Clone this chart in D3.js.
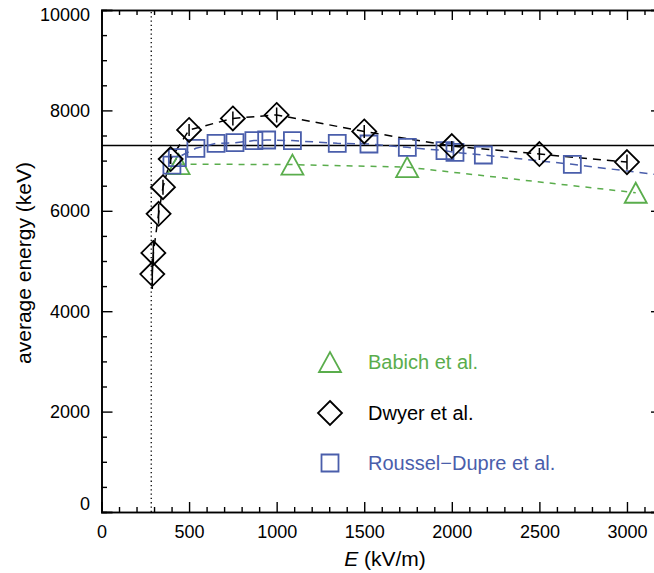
<!DOCTYPE html>
<html>
<head>
<meta charset="utf-8">
<script src="https://cdn.jsdelivr.net/npm/d3@7"></script>
<style>
  html, body { margin: 0; padding: 0; background: #fff; }
  svg { display: block; }
  text { font-family: "Liberation Sans", Arial, Helvetica, sans-serif; }
</style>
</head>
<body>
<svg id="chart" width="654" height="573"></svg>
<script>
// ---------- data ----------
const babichE   = [440, 1090, 1745, 3050];
const babichVal = [6930, 6920, 6870, 6360];

const dwyerE   = [290, 296, 326, 351, 395, 500, 750, 1000, 1500, 2000, 2500, 3000];
const dwyerVal = [4740, 5160, 5940, 6470, 7030, 7610, 7840, 7910, 7580, 7290, 7130, 6970];
const dwyerErr = [300, 250, 200, 150, 100, 120, 140, 150, 130, 100, 120, 150];

const rousselE   = [402, 433, 539, 654, 762, 870, 943, 1090, 1346, 1527, 1746, 1961, 2018, 2180, 2688, 3300];
const rousselVal = [6910, 7060, 7245, 7344, 7357, 7398, 7410, 7398, 7344, 7331, 7264, 7198, 7165, 7112, 6926, 6665];

const refLevel = 7300;      // horizontal reference line (keV)
const breakEven = 284;      // vertical dotted line (kV/m)

const xMajor = [0, 500, 1000, 1500, 2000, 2500, 3000];
const yMajor = [0, 2000, 4000, 6000, 8000, 10000];

const legendLabels = ["Babich et al.", "Dwyer et al.", "Roussel\u2212Dupre et al."];

// ---------- styles ----------
const GREEN = "#5aad4c";
const BLUE  = "#4a5eab";
const BLACK = "#000";

const svg = d3.select("#chart");
const x = d3.scaleLinear().domain([0, 3200]).range([101.5, 662]);
const y = d3.scaleLinear().domain([0, 10000]).range([512, 10]);

const xMinor = d3.range(0, 3201, 100).filter(v => v % 500 !== 0);
const yMinor = d3.range(0, 10001, 500).filter(v => v % 2000 !== 0);

// clip
svg.append("defs").append("clipPath").attr("id", "plotclip")
  .append("rect").attr("x", x(0)).attr("y", y(10000)).attr("width", x(3200) - x(0)).attr("height", y(0) - y(10000));

// ---------- axes ----------
function styleAxis(g) {
  g.select(".domain").attr("stroke", "#000").attr("stroke-width", 1.6);
  g.selectAll(".tick line").attr("stroke", "#000").attr("stroke-width", 1.4);
  g.selectAll("text").attr("fill", "#000").style("font-size", "18px")
    .style("font-family", "'Liberation Sans', Arial, sans-serif");
}

// bottom
const gxb = svg.append("g").attr("transform", `translate(0,${y(0)})`)
  .call(d3.axisBottom(x).tickValues(xMajor).tickSize(-10).tickPadding(13).tickFormat(d3.format("d")));
styleAxis(gxb);
const gxbm = svg.append("g").attr("transform", `translate(0,${y(0)})`)
  .call(d3.axisBottom(x).tickValues(xMinor).tickSize(-5).tickFormat(""));
styleAxis(gxbm);
// top
const gxt = svg.append("g").attr("transform", `translate(0,${y(10000)})`)
  .call(d3.axisTop(x).tickValues(xMajor).tickSize(-10).tickFormat(""));
styleAxis(gxt);
const gxtm = svg.append("g").attr("transform", `translate(0,${y(10000)})`)
  .call(d3.axisTop(x).tickValues(xMinor).tickSize(-5).tickFormat(""));
styleAxis(gxtm);
// left
const gyl = svg.append("g").attr("transform", `translate(${x(0)},0)`)
  .call(d3.axisLeft(y).tickValues(yMajor).tickSize(-11).tickPadding(11.5).tickFormat(d3.format("d")));
styleAxis(gyl);
gyl.selectAll(".tick text").attr("dy", d => d === 0 ? "-0.12em" : (d === 10000 ? "0.6em" : "0.34em"));
const gylm = svg.append("g").attr("transform", `translate(${x(0)},0)`)
  .call(d3.axisLeft(y).tickValues(yMinor).tickSize(-5.5).tickFormat(""));
styleAxis(gylm);
// right
const gyr = svg.append("g").attr("transform", `translate(${x(3200)},0)`)
  .call(d3.axisRight(y).tickValues(yMajor).tickSize(-11).tickFormat(""));
styleAxis(gyr);
const gyrm = svg.append("g").attr("transform", `translate(${x(3200)},0)`)
  .call(d3.axisRight(y).tickValues(yMinor).tickSize(-5.5).tickFormat(""));
styleAxis(gyrm);

// axis titles
svg.append("text")
  .attr("transform", `translate(31,${(y(0) + y(10000)) / 2 + 2}) rotate(-90)`)
  .attr("text-anchor", "middle").style("font-size", "21px").attr("fill", "#000")
  .text("average energy (keV)");

const xt = svg.append("text").attr("x", 385).attr("y", 566)
  .attr("text-anchor", "middle").style("font-size", "21px").attr("fill", "#000");
xt.append("tspan").style("font-style", "italic").text("E");
xt.append("tspan").text(" (kV/m)");

// ---------- plot content ----------
const plot = svg.append("g").attr("clip-path", "url(#plotclip)");

// reference lines
plot.append("line")
  .attr("x1", x(0)).attr("x2", x(3200)).attr("y1", y(refLevel)).attr("y2", y(refLevel))
  .attr("stroke", "#000").attr("stroke-width", 1.6);
plot.append("line")
  .attr("x1", x(breakEven)).attr("x2", x(breakEven)).attr("y1", y(0)).attr("y2", y(10000))
  .attr("stroke", "#000").attr("stroke-width", 1.3).attr("stroke-dasharray", "1.3,3");

const line = d3.line().x(d => x(d[0])).y(d => y(d[1]));

const babich = babichE.map((e, i) => [e, babichVal[i]]);
const dwyer = dwyerE.map((e, i) => [e, dwyerVal[i], dwyerErr[i]]);
const roussel = rousselE.map((e, i) => [e, rousselVal[i]]);

// green
plot.append("path").datum(babich).attr("d", line)
  .attr("fill", "none").attr("stroke", GREEN).attr("stroke-width", 1.5).attr("stroke-dasharray", "6,6");
// blue
plot.append("path").datum(roussel).attr("d", line)
  .attr("fill", "none").attr("stroke", BLUE).attr("stroke-width", 1.5).attr("stroke-dasharray", "8,6");
// black
plot.append("path").datum(dwyer).attr("d", line)
  .attr("fill", "none").attr("stroke", BLACK).attr("stroke-width", 1.5).attr("stroke-dasharray", "8,6");

// symbols
const triPath = (cx, cy) => `M${cx - 11},${cy + 10}L${cx + 11},${cy + 10}L${cx},${cy - 10}Z`;
const diaPath = (cx, cy) => `M${cx},${cy - 12}L${cx + 12},${cy}L${cx},${cy + 12}L${cx - 12},${cy}Z`;
const sqPath  = (cx, cy) => `M${cx - 8.5},${cy - 8.5}h17v17h-17Z`;

plot.selectAll(".tri").data(babich).join("path").attr("class", "tri")
  .attr("d", d => triPath(x(d[0]), y(d[1])))
  .attr("fill", "none").attr("stroke", GREEN).attr("stroke-width", 1.8);

plot.selectAll(".sq").data(roussel).join("path").attr("class", "sq")
  .attr("d", d => sqPath(x(d[0]), y(d[1])))
  .attr("fill", "none").attr("stroke", BLUE).attr("stroke-width", 1.8);

plot.selectAll(".err").data(dwyer).join("line").attr("class", "err")
  .attr("x1", d => x(d[0])).attr("x2", d => x(d[0]))
  .attr("y1", d => y(d[1] - d[2])).attr("y2", d => y(d[1] + d[2]))
  .attr("stroke", BLACK).attr("stroke-width", 1.5);

plot.selectAll(".dia").data(dwyer).join("path").attr("class", "dia")
  .attr("d", d => diaPath(x(d[0]), y(d[1])))
  .attr("fill", "none").attr("stroke", BLACK).attr("stroke-width", 1.8);

// ---------- legend ----------
const legendColors = [GREEN, BLACK, BLUE];
const legendSym = [triPath, diaPath, sqPath];
const legendY = [362, 413, 463];
legendLabels.forEach((lab, i) => {
  svg.append("path").attr("d", legendSym[i](330, legendY[i]))
    .attr("fill", "none").attr("stroke", legendColors[i]).attr("stroke-width", 1.8);
  svg.append("text").attr("x", 368).attr("y", legendY[i] + 7)
    .style("font-size", "20px").attr("fill", legendColors[i]).text(lab);
});
</script>
</body>
</html>
